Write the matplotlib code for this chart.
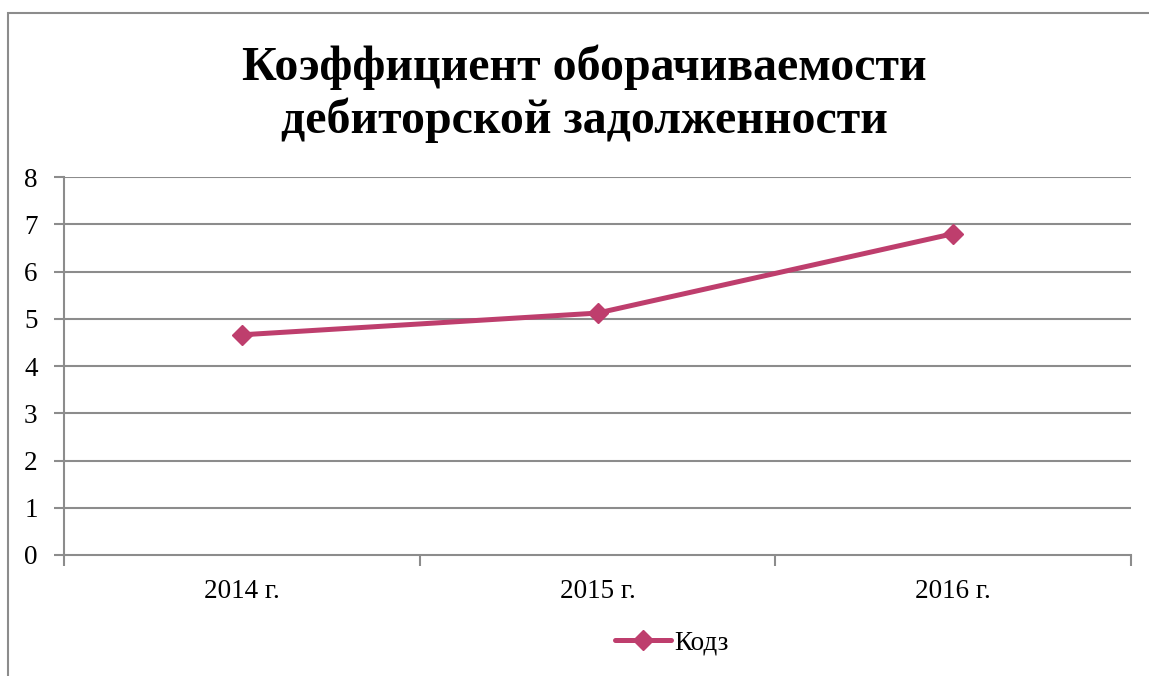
import matplotlib
matplotlib.use("Agg")
import matplotlib.pyplot as plt
from matplotlib.patches import Rectangle

# Data
years = ["2014 г.", "2015 г.", "2016 г."]
kodz = [4.66, 5.12, 6.80]
y_ticks = [0, 1, 2, 3, 4, 5, 6, 7, 8]

title = "Коэффициент оборачиваемости\nдебиторской задолженности"
series_name = "Кодз"

plt.rcParams["font.family"] = ["Liberation Serif", "DejaVu Serif"]

W, H = 1149, 676
fig = plt.figure(figsize=(W / 100, H / 100), dpi=100)

grid_col = "#8c8c8c"
line_col = "#BE3E6D"

# plot area in pixel terms
left, right, top, bottom = 64, 1131, 177, 555
ax = fig.add_axes([left / W, 1 - bottom / H, (right - left) / W, (bottom - top) / H])

x = list(range(len(years)))
ax.plot(x, kodz, color=line_col, lw=3.6, marker="D", ms=10,
        mec=line_col, mfc=line_col, label=series_name, zorder=3,
        solid_capstyle="round")

ax.set_xlim(-0.5, len(years) - 0.5)
ax.set_ylim(y_ticks[0], y_ticks[-1])
ax.set_yticks(y_ticks)
ax.set_xticks(x)
ax.set_xticklabels(years)
ax.set_xticks([i - 0.5 for i in range(len(years) + 1)], minor=True)

for v in y_ticks[1:]:
    ax.axhline(v, color=grid_col, lw=1.5, zorder=1)

for side in ("top", "right"):
    ax.spines[side].set_visible(False)
for side in ("left", "bottom"):
    ax.spines[side].set_color(grid_col)
    ax.spines[side].set_linewidth(1.5)

ax.tick_params(axis="y", direction="out", length=7, width=1.5, color=grid_col,
               labelsize=19.5, pad=12)
ax.tick_params(axis="x", which="major", length=0, labelsize=19.5, pad=17)
ax.tick_params(axis="x", which="minor", direction="out", length=8, width=1.5,
               color=grid_col)

fig.text(584 / W, 1 - 94 / H, title, ha="center", va="center",
         fontsize=34.5, fontweight="bold", linespacing=1.22)

leg = fig.legend(loc="center", bbox_to_anchor=(672 / W, 1 - 643 / H),
                 frameon=False, fontsize=19.5, handlelength=2.05,
                 handletextpad=0.15)

# outer chart frame
fig.patches.append(Rectangle((8 / W, -0.1), 1.2, 1 - 13 / H + 0.1,
                             transform=fig.transFigure, fill=False,
                             edgecolor="#8c8c8c", lw=1.5))

fig.savefig("out.png", dpi=100)
